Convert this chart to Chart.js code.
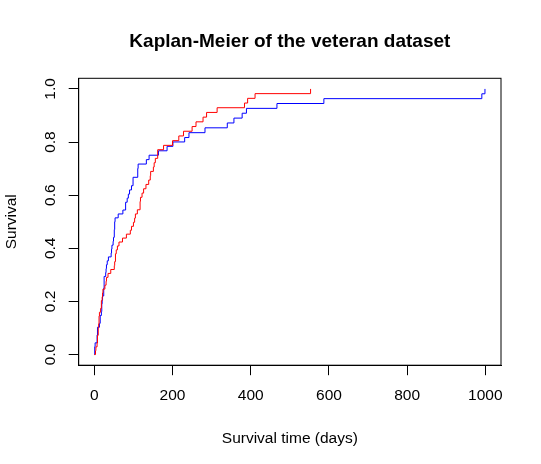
<!DOCTYPE html>
<html>
<head>
<meta charset="utf-8">
<title>Kaplan-Meier of the veteran dataset</title>
<script src="https://cdn.jsdelivr.net/npm/chart.js@4"></script>
<style>
  html, body { margin: 0; padding: 0; background: #fff; }
  #km { display: block; }
</style>
</head>
<body>
<canvas id="km" width="541" height="464"></canvas>
<script>
// ======================
// Data (cumulative events)
// ======================
// trt = 1 (standard) -> red
const stdTime = [0, 3, 4, 7, 8, 10, 11, 12, 13, 16, 18, 20, 21, 22, 27, 30, 31, 35, 42, 51, 52, 54, 56, 59, 63, 72, 82, 92, 95, 100,
  103, 105, 110, 117, 118, 122, 126, 132, 139, 143, 144, 151, 153, 156, 162, 177, 200, 216, 228, 250, 260, 278, 287, 314, 384, 392, 411, 553];
const stdCum = [0, 0.0145, 0.0290, 0.0435, 0.0725, 0.1014, 0.1159, 0.1449, 0.1594, 0.1739, 0.2029, 0.2174, 0.2319, 0.2464, 0.2612, 0.2759,
  0.2907, 0.3055, 0.3203, 0.3350, 0.3498, 0.3794, 0.3941, 0.4089, 0.4237, 0.4385, 0.4533, 0.4680, 0.4828, 0.4980,
  0.5137, 0.5294, 0.5451, 0.5765, 0.5921, 0.6078, 0.6242, 0.6405, 0.6569, 0.6732, 0.6895, 0.7059, 0.7222, 0.7386, 0.7712,
  0.7876, 0.8053, 0.8230, 0.8407, 0.8584, 0.8761, 0.8938, 0.9115, 0.9292, 0.9469, 0.9646, 0.9823, 1.0];

// trt = 2 (test) -> blue
const testTime = [0, 1, 2, 7, 8, 13, 15, 18, 19, 20, 21, 24, 25, 29, 30, 31, 33, 36, 43, 44, 45, 48, 49, 51, 52, 53, 61, 73, 80,
  84, 87, 90, 95, 99, 111, 112, 133, 140, 164, 186, 201, 231, 242, 283, 340, 357, 378, 389, 467, 587, 991, 999];
const testCum = [0, 0.0294, 0.0441, 0.0735, 0.1029, 0.1176, 0.1471, 0.1618, 0.1912, 0.2059, 0.2206, 0.25, 0.2941, 0.3088, 0.3235,
  0.3382, 0.3529, 0.3676, 0.3824, 0.3971, 0.4118, 0.4265, 0.4412, 0.4706, 0.5, 0.5147, 0.5294, 0.5441, 0.5735,
  0.5888, 0.6040, 0.6198, 0.6357, 0.6673, 0.7006, 0.7172, 0.7339, 0.7505, 0.7671, 0.7838, 0.8004, 0.8170, 0.8353,
  0.8536, 0.8719, 0.8902, 0.9085, 0.9268, 0.9451, 0.9634, 0.9817, 1.0];

const xTicks = [0, 200, 400, 600, 800, 1000];
const xTickLabels = ["0", "200", "400", "600", "800", "1000"];
const yTicks = [0, 0.2, 0.4, 0.6, 0.8, 1.0];
const yTickLabels = ["0.0", "0.2", "0.4", "0.6", "0.8", "1.0"];

// ======================
// Helpers
// ======================
function toPoints(xs, ys) {
    return xs.map((x, i) => ({ x: x, y: ys[i] }));
}

// full R-style box round the plot region
const boxPlugin = {
    id: "rbox",
    afterDraw(chart) {
        const { ctx, chartArea: a } = chart;
        ctx.save();
        ctx.strokeStyle = "#000";
        ctx.lineWidth = 1;
        ctx.strokeRect(a.left, a.top, a.right - a.left, a.bottom - a.top);
        ctx.restore();
    }
};

Chart.defaults.font.family = "'Liberation Sans', Arial, Helvetica, sans-serif";
Chart.defaults.color = "#000";

// ======================
// Chart
// ======================
new Chart(document.getElementById("km"), {
    type: "scatter",
    data: {
        datasets: [{
            label: "trt 1",
            data: toPoints(stdTime, stdCum),
            showLine: true,
            stepped: true,
            borderColor: "#ff0000",
            borderWidth: 1,
            pointRadius: 0,
            fill: false
        }, {
            label: "trt 2",
            data: toPoints(testTime, testCum),
            showLine: true,
            stepped: true,
            borderColor: "#0000ff",
            borderWidth: 1,
            pointRadius: 0,
            fill: false
        }]
    },
    options: {
        responsive: false,
        animation: false,
        layout: { padding: { left: 0, right: 40, top: 0, bottom: 0 } },
        plugins: {
            legend: { display: false },
            tooltip: { enabled: false },
            title: {
                display: true,
                text: "Kaplan-Meier of the veteran dataset",
                fullSize: false,
                font: { size: 19, weight: "bold" },
                color: "#000",
                padding: { top: 30, bottom: 25.5 }
            }
        },
        scales: {
            x: {
                type: "linear",
                min: -40,
                max: 1040,
                afterBuildTicks: s => { s.ticks = xTicks.map(v => ({ value: v })); },
                afterFit: s => { s.height = 98.8; s.paddingLeft = 0; s.paddingRight = 0; },
                ticks: {
                    callback: (v, i) => xTickLabels[i],
                    font: { size: 15.5 },
                    padding: 11,
                    maxRotation: 0,
                    autoSkip: false
                },
                grid: { drawOnChartArea: false, drawTicks: true, tickLength: 10, color: "#000" },
                border: { display: true, color: "#000" },
                title: {
                    display: true,
                    text: "Survival time (days)",
                    font: { size: 15.5 },
                    padding: { top: 0, bottom: 16.4 }
                }
            },
            y: {
                type: "linear",
                min: -0.04,
                max: 1.04,
                afterBuildTicks: s => { s.ticks = yTicks.map(v => ({ value: v })); },
                afterFit: s => { s.width = 78.7; s.paddingTop = 0; s.paddingBottom = 0; },
                ticks: {
                    callback: (v, i) => yTickLabels[i],
                    font: { size: 15.5 },
                    padding: 7,
                    minRotation: 90,
                    maxRotation: 90,
                    crossAlign: "center",
                    autoSkip: false
                },
                grid: { drawOnChartArea: false, drawTicks: true, tickLength: 10, color: "#000" },
                border: { display: true, color: "#000" },
                title: {
                    display: true,
                    text: "Survival",
                    font: { size: 15.5 },
                    padding: { top: 2, bottom: 0 }
                }
            }
        }
    },
    plugins: [boxPlugin]
});
</script>
</body>
</html>
